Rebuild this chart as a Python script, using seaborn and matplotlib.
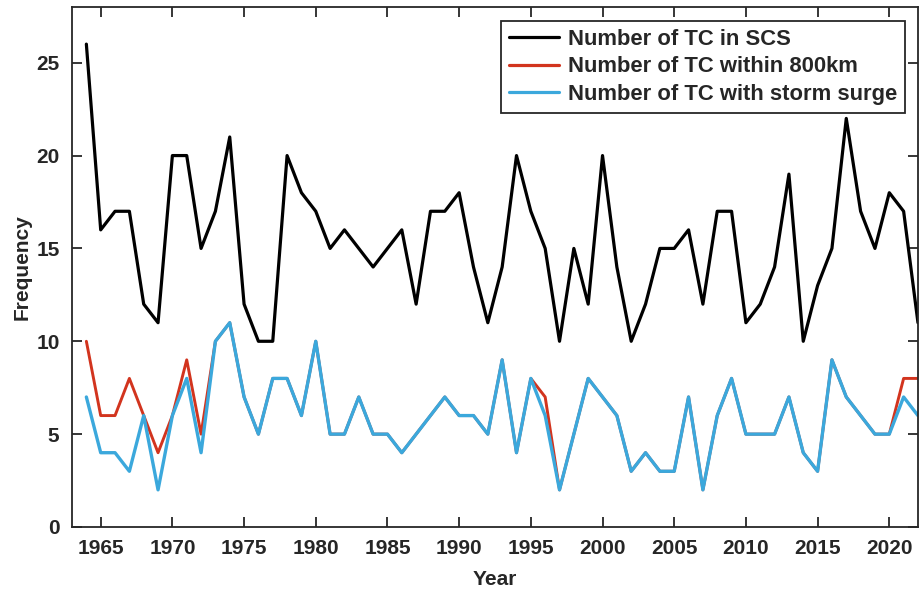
import numpy as np
import pandas as pd
import matplotlib
matplotlib.use("Agg")
import matplotlib.pyplot as plt
import seaborn as sns

years = list(range(1964, 2023))

tc_scs = [26, 16, 17, 17, 12, 11, 20, 20, 15, 17,
          21, 12, 10, 10, 20, 18, 17, 15, 16, 15,
          14, 15, 16, 12, 17, 17, 18, 14, 11, 14,
          20, 17, 15, 10, 15, 12, 20, 14, 10, 12,
          15, 15, 16, 12, 17, 17, 11, 12, 14, 19,
          10, 13, 15, 22, 17, 15, 18, 17, 11]

tc_800km = [10, 6, 6, 8, 6, 4, 6, 9, 5, 10,
            11, 7, 5, 8, 8, 6, 10, 5, 5, 7,
            5, 5, 4, 5, 6, 7, 6, 6, 5, 9,
            4, 8, 7, 2, 5, 8, 7, 6, 3, 4,
            3, 3, 7, 2, 6, 8, 5, 5, 5, 7,
            4, 3, 9, 7, 6, 5, 5, 8, 8]

tc_surge = [7, 4, 4, 3, 6, 2, 6, 8, 4, 10,
            11, 7, 5, 8, 8, 6, 10, 5, 5, 7,
            5, 5, 4, 5, 6, 7, 6, 6, 5, 9,
            4, 8, 6, 2, 5, 8, 7, 6, 3, 4,
            3, 3, 7, 2, 6, 8, 5, 5, 5, 7,
            4, 3, 9, 7, 6, 5, 5, 7, 6]

labels = ["Number of TC in SCS",
          "Number of TC within 800km",
          "Number of TC with storm surge"]
colors = ["#000000", "#D2341E", "#3BA8DC"]
widths = [2.3, 2.1, 2.4]

sns.set_style("ticks")
plt.rcParams["font.family"] = ["Liberation Sans", "DejaVu Sans"]
plt.rcParams["font.weight"] = "bold"

fig = plt.figure(figsize=(9.21, 5.92), dpi=100)
ax = fig.add_axes([0.0782, 0.1098, 0.9185, 0.8784])

for series, lab, col, lw in zip([tc_scs, tc_800km, tc_surge], labels, colors, widths):
    df = pd.DataFrame({"Year": years, "Frequency": series})
    sns.lineplot(data=df, x="Year", y="Frequency", ax=ax, color=col,
                 linewidth=lw, label=lab)

ax.set_xlim(1963, 2022)
ax.set_ylim(0, 28)
ax.set_xticks(range(1965, 2021, 5))
ax.set_yticks([0, 5, 10, 15, 20, 25])

for s in ax.spines.values():
    s.set_visible(True)
    s.set_linewidth(1.3)
    s.set_color("#262626")

ax.tick_params(direction="in", length=7, width=1.3, color="#262626",
               top=True, right=True, labelsize=15, labelcolor="#262626",
               pad=9)
for t in ax.get_xticklabels() + ax.get_yticklabels():
    t.set_fontweight("bold")

ax.set_xlabel("Year", fontsize=15, fontweight="bold", color="#262626", labelpad=8)
ax.set_ylabel("Frequency", fontsize=15, fontweight="bold", color="#262626", labelpad=3)

leg = ax.legend(loc="upper right", bbox_to_anchor=(0.9846, 0.973),
                fontsize=15.8, frameon=True, fancybox=False, shadow=False,
                handlelength=2.3, handletextpad=0.4, borderpad=0.35,
                labelspacing=0.3, borderaxespad=0)
leg.get_frame().set_edgecolor("#262626")
leg.get_frame().set_linewidth(1.3)
leg.get_frame().set_alpha(1)
for t in leg.get_texts():
    t.set_fontweight("bold")
for h in leg.get_lines():
    h.set_linewidth(2.3)

fig.savefig("out.png", dpi=100)
